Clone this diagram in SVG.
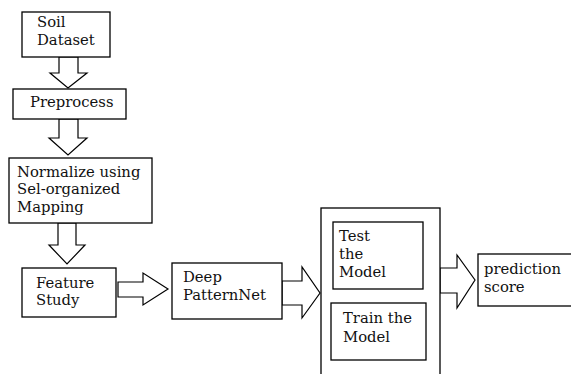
<svg xmlns="http://www.w3.org/2000/svg" width="571" height="374" viewBox="0 0 571 374">
<style>
.box{fill:#fff;stroke:#000;stroke-width:1.3}
.arr{fill:#fff;stroke:#000;stroke-width:1.2;stroke-linejoin:miter}
text{font-family:"DejaVu Serif","Liberation Serif",serif;font-size:14.8px;fill:#111}
</style>
<rect width="571" height="374" fill="#fff"/>
<g id="connectors">
<polygon class="arr" points="59,57 78,57 78,73 87,73 68,88 50,73 59,73"/>
<polygon class="arr" points="59,119 78,119 78,138 87,138 68,155 49,138 59,138"/>
<polygon class="arr" points="58,223 76,223 76,245 85,245 67,264 49,245 58,245"/>
<polygon class="arr" points="118,282 143,282 143,273 168,289 143,305 143,297 118,297"/>
<polygon class="arr" points="282,281 302,281 302,267 320,293 302,318 302,305 282,305"/>
<polygon class="arr" points="440,268 457,268 457,255 475,280 457,308 457,293 440,293"/>
</g>
<g id="soil"><rect class="box" x="22" y="12" width="88" height="45"/><text x="37" y="27">Soil</text><text x="37" y="45">Dataset</text></g>
<g id="preprocess"><rect class="box" x="13" y="89" width="113" height="30"/><text x="30" y="107">Preprocess</text></g>
<g id="normalize"><rect class="box" x="9" y="158" width="143" height="65"/><text x="17" y="177">Normalize using</text><text x="17" y="194">Sel-organized</text><text x="17" y="212">Mapping</text></g>
<g id="feature"><rect class="box" x="22" y="268" width="94" height="49"/><text x="36" y="288">Feature</text><text x="36" y="305">Study</text></g>
<g id="deep"><rect class="box" x="172" y="263" width="110" height="56"/><text x="183" y="282">Deep</text><text x="183" y="300">PatternNet</text></g>
<g id="model"><rect class="box" x="321" y="208" width="119" height="172"/></g>
<g id="test"><rect class="box" x="333" y="222" width="90" height="67"/><text x="339" y="241">Test</text><text x="339" y="259">the</text><text x="339" y="277">Model</text></g>
<g id="train"><rect class="box" x="331" y="303" width="95" height="57"/><text x="343" y="323">Train the</text><text x="343" y="342">Model</text></g>
<g id="prediction"><rect class="box" x="478" y="254" width="100" height="52"/><text x="484" y="274">prediction</text><text x="484" y="292">score</text></g>
</svg>
